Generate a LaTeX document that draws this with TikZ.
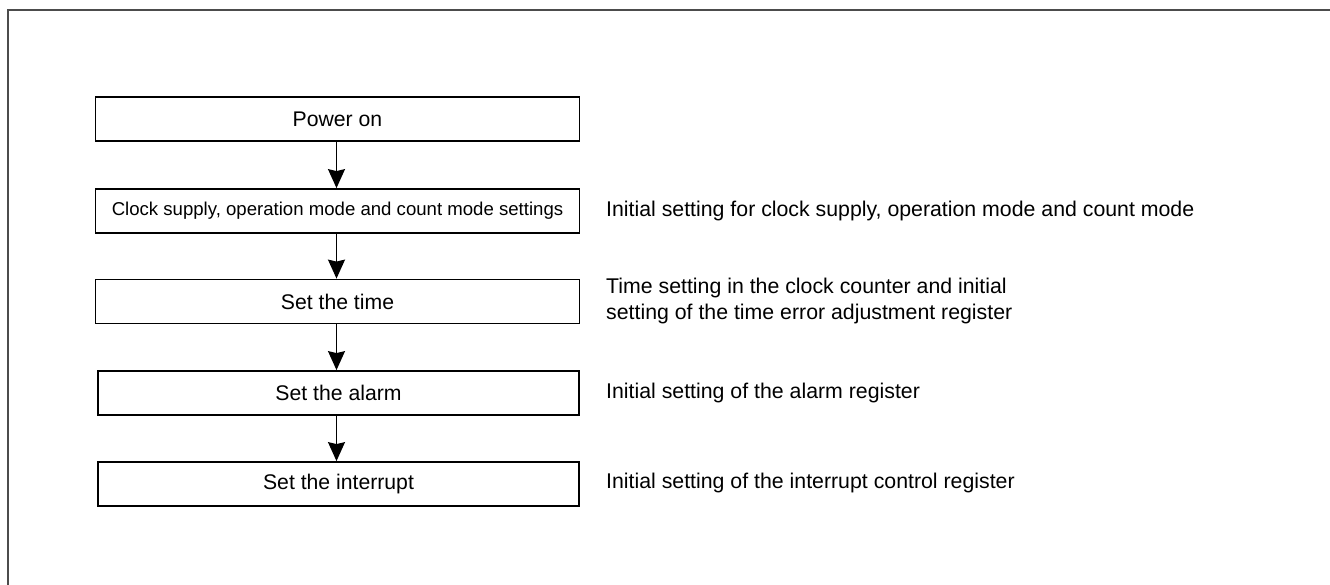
\documentclass[tikz,border=0pt]{standalone}
\usepackage{fontspec}
\setmainfont{Liberation Sans}
\usetikzlibrary{arrows.meta}
\begin{document}
\begin{tikzpicture}[x=1pt,y=-1pt,
  stepbox/.style={draw=black,line width=1.8pt,fill=white,minimum width=484pt,minimum height=44pt,inner sep=0pt,font=\fontsize{21.2}{25}\selectfont},
  smallbox/.style={stepbox,font=\fontsize{18.6}{22}\selectfont},
  note/.style={anchor=west,inner sep=0pt,align=left,font=\fontsize{21.3}{26}\selectfont},
  flow/.style={line width=1.4pt,-{Stealth[length=19pt,width=17pt,inset=2pt]}}]
\useasboundingbox (0,0) rectangle (1330,585);
\fill[white] (0,0) rectangle (1330,585);
% outer frame (left and top edges)
\draw[line width=2pt,color=black!70] (8,585) -- (8,10) -- (1330,10);
% steps
\node[stepbox] (p) at (337.5,119) {Power on};
\node[smallbox] (c) at (337.5,211) {Clock supply, operation mode and count mode settings};
\node[stepbox] (t) at (337.5,301.5) {Set the time};
\node[stepbox,minimum width=481pt] (a) at (338.5,393) {Set the alarm};
\node[stepbox,minimum width=481pt] (i) at (338.5,484) {Set the interrupt};
% arrows
\coordinate (ax) at (336.5,0);
\draw[flow] (p.south -| ax) -- (c.north -| ax);
\draw[flow] (c.south -| ax) -- (t.north -| ax);
\draw[flow] (t.south -| ax) -- (a.north -| ax);
\draw[flow] (a.south -| ax) -- (i.north -| ax);
% notes
\node[note] (nc) at (606,211) {Initial setting for clock supply, operation mode and count mode};
\node[note] (nt) at (606,301) {Time setting in the clock counter and initial\\setting of the time error adjustment register};
\node[note] (na) at (606,393) {Initial setting of the alarm register};
\node[note] (ni) at (606,483) {Initial setting of the interrupt control register};
\end{tikzpicture}
\end{document}
